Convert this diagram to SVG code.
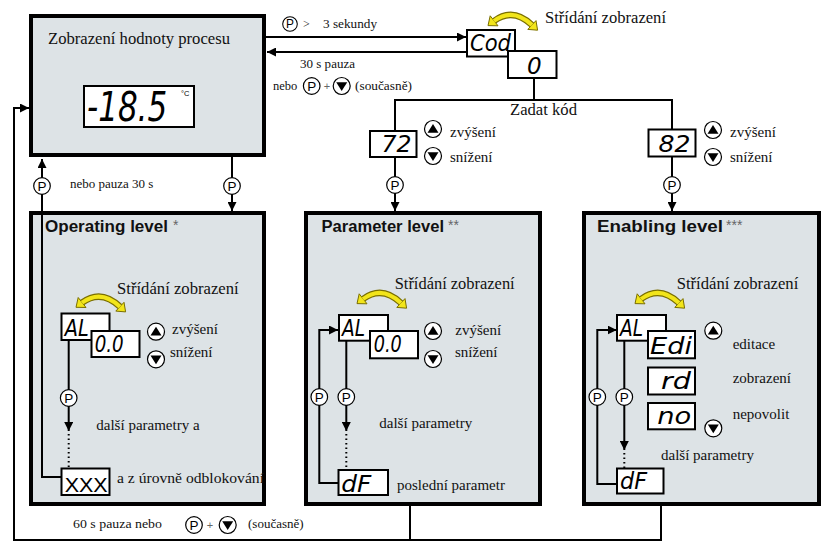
<svg xmlns="http://www.w3.org/2000/svg" xmlns:xlink="http://www.w3.org/1999/xlink" width="830" height="552" viewBox="0 0 830 552">
<style>
.box{fill:#dde3e6;stroke:#000;stroke-width:4}
.disp{fill:#fff;stroke:#000;stroke-width:2}
.ln{fill:none;stroke:#000;stroke-width:2}
.dot{fill:none;stroke:#000;stroke-width:2;stroke-dasharray:1.5 3}
.s{font-family:"Liberation Serif","Times New Roman",serif;fill:#111}
.s15{font-size:15px}
.s13{font-size:13px}
.s16{font-size:16.5px}
.seg{font-family:"DejaVu Sans",sans-serif;font-style:oblique;fill:#000;font-size:23px}
.big{font-size:31px}
.h{font-family:"Liberation Sans",Arial,sans-serif;font-weight:bold;font-size:16px;fill:#111}
.ast{font-family:"Liberation Sans",Arial,sans-serif;font-size:14px;fill:#666}
.pt{font-family:"Liberation Sans",Arial,sans-serif;font-size:13.5px;fill:#000}
.xx{font-family:"Liberation Sans",Arial,sans-serif;font-size:20px;fill:#000}
</style>
<defs>
<marker id="ah" viewBox="0 0 10 10" refX="10" refY="5" markerWidth="9" markerHeight="9" markerUnits="userSpaceOnUse" orient="auto"><path d="M0,0 L10,5 L0,10 z" fill="#000"/></marker>
<g id="pc"><circle r="8.3" fill="#fff" stroke="#000" stroke-width="1.2"/><text y="4.9" text-anchor="middle" class="pt">P</text></g>
<g id="up"><circle r="8.5" fill="#fff" stroke="#000" stroke-width="1.2"/><polygon points="0,-5 5.5,3.8 -5.5,3.8" fill="#000"/></g>
<g id="dn"><circle r="8.5" fill="#fff" stroke="#000" stroke-width="1.2"/><polygon points="-5.5,-3.8 5.5,-3.8 0,5" fill="#000"/></g>
<g id="ya">
<path d="M6,8 Q25,-6 44,12" stroke="#7a6f00" stroke-width="6.5" fill="none"/>
<polygon points="0,12.6 10,12.8 2.2,2.8" fill="#f2e51a" stroke="#7a6f00" stroke-width="1"/>
<polygon points="49.6,17.2 39.8,16.4 48,7.6" fill="#f2e51a" stroke="#7a6f00" stroke-width="1"/>
<path d="M6,8 Q25,-6 44,12" stroke="#f2e51a" stroke-width="4" fill="none"/>
</g>
</defs>
<rect width="830" height="552" fill="#fff"/>

<g id="connectors">
<line class="ln" x1="266" y1="37" x2="466" y2="37" marker-end="url(#ah)"/>
<line class="ln" x1="466" y1="52" x2="267" y2="52" marker-end="url(#ah)"/>
<path class="ln" d="M534,78 V100 M395,130 V100 H672 V129"/>
<line class="ln" x1="395" y1="157" x2="395" y2="211" marker-end="url(#ah)"/>
<line class="ln" x1="672" y1="157" x2="672" y2="211" marker-end="url(#ah)"/>
<line class="ln" x1="232" y1="157" x2="232" y2="211" marker-end="url(#ah)"/>
<path class="ln" d="M661,506 V540 H14 V108 H29" marker-end="url(#ah)"/>
<path class="ln" d="M410,506 V540"/>
</g>

<g id="main">
<rect class="box" x="31" y="16" width="233" height="139"/>
<text class="s" x="48" y="44" font-size="17" textLength="182" lengthAdjust="spacingAndGlyphs">Zobrazení hodnoty procesu</text>
<rect class="disp" x="84" y="86" width="110" height="41"/>
<text class="seg big" transform="translate(87,120.5) scale(1,1.3)">-18.5</text>
<text x="181" y="95.5" font-family="Liberation Sans,sans-serif" font-size="7.5">°C</text>
</g>

<g id="code">
<use xlink:href="#ya" transform="translate(488,13)"/>
<text class="s s16" x="545" y="23" textLength="121" lengthAdjust="spacingAndGlyphs">Střídání zobrazení</text>
<rect class="disp" x="467" y="30" width="48" height="26.5"/>
<text class="seg" x="470" y="51" textLength="41" lengthAdjust="spacingAndGlyphs">Cod</text>
<rect class="disp" x="508" y="51" width="48.5" height="27"/>
<text class="seg" x="527" y="73.5">0</text>
<text class="s s16" x="510" y="115" textLength="67" lengthAdjust="spacingAndGlyphs">Zadat kód</text>
</g>

<g id="labels-top">
<use xlink:href="#pc" transform="translate(290,24) scale(0.88)"/>
<text class="s" x="303" y="28" font-size="12">&gt;</text>
<text class="s" x="323" y="28" font-size="12.5" textLength="54" lengthAdjust="spacingAndGlyphs">3 sekundy</text>
<text class="s s13" x="300" y="68" textLength="55" lengthAdjust="spacingAndGlyphs">30 s pauza</text>
<text class="s" x="273" y="90" font-size="12.5">nebo</text>
<use xlink:href="#pc" transform="translate(311.7,86)"/>
<text x="327" y="90" font-family="Liberation Sans,sans-serif" font-size="11" fill="#666" text-anchor="middle">+</text>
<use xlink:href="#dn" transform="translate(341.7,86)"/>
<text class="s" x="355" y="90" font-size="12.5" textLength="57" lengthAdjust="spacingAndGlyphs">(současně)</text>
</g>

<g id="code72">
<rect class="disp" x="370" y="131" width="46.5" height="26"/>
<text class="seg" x="411.5" y="152" text-anchor="end" textLength="30" lengthAdjust="spacingAndGlyphs">72</text>
<use xlink:href="#up" transform="translate(433,129)"/>
<use xlink:href="#dn" transform="translate(433,156)"/>
<text class="s s15" x="450" y="137">zvýšení</text>
<text class="s s15" x="450" y="162">snížení</text>
<use xlink:href="#pc" transform="translate(395,185)"/>
</g>

<g id="code82">
<rect class="disp" x="648.5" y="129.5" width="47" height="27"/>
<text class="seg" x="690.5" y="152" text-anchor="end" textLength="32" lengthAdjust="spacingAndGlyphs">82</text>
<use xlink:href="#up" transform="translate(713,130)"/>
<use xlink:href="#dn" transform="translate(713,157)"/>
<text class="s s15" x="730" y="137">zvýšení</text>
<text class="s s15" x="730" y="162">snížení</text>
<use xlink:href="#pc" transform="translate(672,185)"/>
</g>

<g id="toOperating">
<use xlink:href="#pc" transform="translate(232,186)"/>
</g>

<g id="operating">
<rect class="box" x="31" y="213" width="233" height="291"/>
<path class="ln" d="M61,477 H42 V159" marker-end="url(#ah)"/>
<text class="h" x="45" y="232" textLength="123" lengthAdjust="spacingAndGlyphs">Operating level</text>
<text class="ast" x="173" y="230">*</text>
<use xlink:href="#ya" transform="translate(76,294.7)"/>
<text class="s s16" x="117" y="294" textLength="121.7" lengthAdjust="spacingAndGlyphs">Střídání zobrazení</text>
<line class="ln" x1="68.7" y1="340" x2="68.7" y2="431" marker-end="url(#ah)"/>
<line class="dot" x1="68.7" y1="434" x2="68.7" y2="468"/>
<use xlink:href="#pc" transform="translate(68.7,398)"/>
<rect class="disp" x="61.5" y="313.5" width="48" height="26.5"/>
<text class="seg" x="64.7" y="335.5" textLength="24" lengthAdjust="spacingAndGlyphs">AL</text>
<rect class="disp" x="91.5" y="331" width="48" height="26"/>
<text class="seg" x="94.7" y="352" textLength="29" lengthAdjust="spacingAndGlyphs">0.0</text>
<use xlink:href="#up" transform="translate(156,331.7)"/>
<use xlink:href="#dn" transform="translate(156,359.3)"/>
<text class="s s15" x="172" y="334">zvýšení</text>
<text class="s s15" x="170" y="356.7">snížení</text>
<text class="s s15" x="96.3" y="430">další parametry a</text>
<rect class="disp" x="61.5" y="468.5" width="48" height="26.5"/>
<text class="xx" x="64.7" y="492" textLength="43" lengthAdjust="spacingAndGlyphs">XXX</text>
<text class="s" x="117" y="483" font-size="14.5" textLength="147" lengthAdjust="spacingAndGlyphs">a z úrovně odblokování</text>
</g>

<g id="parameter">
<rect class="box" x="306" y="213" width="234" height="291"/>
<text class="h" x="321.5" y="232" textLength="122.5" lengthAdjust="spacingAndGlyphs">Parameter level</text>
<text class="ast" x="448" y="230">**</text>
<use xlink:href="#ya" transform="translate(357,291)"/>
<text class="s s16" x="394.7" y="289" textLength="120" lengthAdjust="spacingAndGlyphs">Střídání zobrazení</text>
<path class="ln" d="M338,483 H319.3 V330 H338" marker-end="url(#ah)"/>
<use xlink:href="#pc" transform="translate(319.3,397)"/>
<line class="ln" x1="346.3" y1="341" x2="346.3" y2="431" marker-end="url(#ah)"/>
<line class="dot" x1="346.3" y1="434" x2="346.3" y2="470"/>
<use xlink:href="#pc" transform="translate(346.3,397)"/>
<rect class="disp" x="339" y="315" width="49" height="25.7"/>
<text class="seg" x="342" y="335.5" textLength="23" lengthAdjust="spacingAndGlyphs">AL</text>
<rect class="disp" x="370" y="331" width="48" height="27.3"/>
<text class="seg" x="373.7" y="352" textLength="28" lengthAdjust="spacingAndGlyphs">0.0</text>
<use xlink:href="#up" transform="translate(433,331)"/>
<use xlink:href="#dn" transform="translate(433,359)"/>
<text class="s s15" x="455.3" y="335">zvýšení</text>
<text class="s s15" x="455" y="356.7">snížení</text>
<text class="s s15" x="379.3" y="428.3">další parametry</text>
<rect class="disp" x="338.5" y="470" width="49.5" height="25"/>
<text class="seg" x="341.3" y="492" textLength="30" lengthAdjust="spacingAndGlyphs">dF</text>
<text class="s s15" x="397" y="490">poslední parametr</text>
</g>

<g id="enabling">
<rect class="box" x="584" y="213" width="235" height="291"/>
<text class="h" x="597" y="232" textLength="126" lengthAdjust="spacingAndGlyphs">Enabling level</text>
<text class="ast" x="726" y="230">***</text>
<use xlink:href="#ya" transform="translate(635,291)"/>
<text class="s s16" x="676.7" y="289" textLength="121.6" lengthAdjust="spacingAndGlyphs">Střídání zobrazení</text>
<path class="ln" d="M616.7,484 H597.3 V330 H616.7" marker-end="url(#ah)"/>
<use xlink:href="#pc" transform="translate(597.3,397)"/>
<line class="ln" x1="624.3" y1="341" x2="624.3" y2="450" marker-end="url(#ah)"/>
<line class="dot" x1="624.3" y1="453" x2="624.3" y2="468"/>
<use xlink:href="#pc" transform="translate(624.3,397)"/>
<rect class="disp" x="617" y="315" width="49" height="25.7"/>
<text class="seg" x="620" y="335.5" textLength="23" lengthAdjust="spacingAndGlyphs">AL</text>
<rect class="disp" x="648" y="331" width="47" height="27.3"/>
<text class="seg" x="650" y="353.5" textLength="42" lengthAdjust="spacingAndGlyphs">Edi</text>
<rect class="disp" x="648" y="367.5" width="47" height="27"/>
<text class="seg" x="691" y="389" text-anchor="end" textLength="30" lengthAdjust="spacingAndGlyphs">rd</text>
<rect class="disp" x="648" y="403" width="47" height="26.3"/>
<text class="seg" x="657.3" y="423.5" textLength="34" lengthAdjust="spacingAndGlyphs">no</text>
<use xlink:href="#up" transform="translate(713.3,330.7)"/>
<use xlink:href="#dn" transform="translate(713.3,428.3)"/>
<text class="s s15" x="732.7" y="349.3">editace</text>
<text class="s s15" x="732.7" y="383.3">zobrazení</text>
<text class="s s15" x="732.7" y="419.3">nepovolit</text>
<text class="s s15" x="661" y="460">další parametry</text>
<rect class="disp" x="617" y="468.5" width="46.5" height="25"/>
<text class="seg" x="620" y="489" textLength="27" lengthAdjust="spacingAndGlyphs">dF</text>
</g>

<g id="operating-exit-label">
<use xlink:href="#pc" transform="translate(42,186)"/>
<text class="s s13" x="70" y="188">nebo pauza 30 s</text>
</g>

<g id="bottom-label">
<text class="s s13" x="73" y="528" textLength="89" lengthAdjust="spacingAndGlyphs">60 s pauza nebo</text>
<use xlink:href="#pc" transform="translate(194,525)"/>
<text x="210" y="529" font-family="Liberation Sans,sans-serif" font-size="11" fill="#666" text-anchor="middle">+</text>
<use xlink:href="#dn" transform="translate(227.7,525)"/>
<text class="s s13" x="248" y="528">(současně)</text>
</g>
</svg>
